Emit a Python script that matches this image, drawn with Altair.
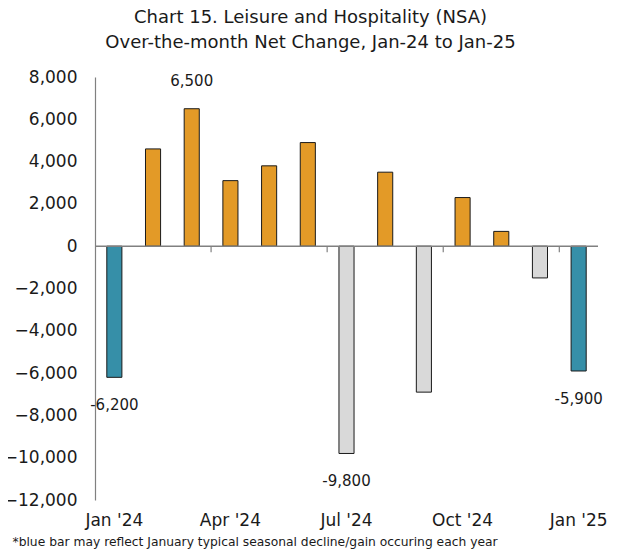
import altair as alt
import pandas as pd

months = ["Jan '24", "Feb '24", "Mar '24", "Apr '24", "May '24", "Jun '24",
          "Jul '24", "Aug '24", "Sep '24", "Oct '24", "Nov '24", "Dec '24", "Jan '25"]
values = [-6200, 4600, 6500, 3100, 3800, 4900, -9800, 3500, -6900, 2300, 700, -1500, -5900]
groups = ["jan", "pos", "pos", "pos", "pos", "pos", "neg", "pos", "neg", "pos", "pos", "neg", "jan"]
labelled = ["-6,200", "", "6,500", "", "", "", "-9,800", "", "", "", "", "", "-5,900"]

label_months = ["Jan '24", "Apr '24", "Jul '24", "Oct '24", "Jan '25"]
tick_months = ["Apr '24", "Jul '24", "Oct '24", "Jan '25"]
y_ticks = [8000, 6000, 4000, 2000, 0, -2000, -4000, -6000, -8000, -10000, -12000]

df = pd.DataFrame({"month": months, "value": values, "group": groups, "lab": labelled})
ticks_df = pd.DataFrame({"month": tick_months, "value": [0] * len(tick_months)})

FONT = "DejaVu Sans"
W, H = 503, 423
YMIN, YMAX = -12000, 8000
P_INNER = 0.61

xscale = alt.Scale(domain=months, paddingInner=P_INNER, paddingOuter=P_INNER / 2)
yscale = alt.Scale(domain=[YMIN, YMAX], nice=False)

x_axis = alt.Axis(values=label_months, ticks=False, domain=False,
                  labelAngle=0, labelFont=FONT, labelFontSize=17,
                  labelColor="#1a1a1a", labelPadding=12,
                  title="*blue bar may reflect January typical seasonal decline/gain occuring each year",
                  titleFont=FONT, titleFontSize=12.3, titleFontWeight="normal",
                  titleColor="#1a1a1a", titleAnchor="start", titleAlign="left",
                  titleX=-83, titleY=41, titleBaseline="middle")
y_axis = alt.Axis(values=y_ticks, format=",.0f", grid=False, ticks=False,
                  domainColor="#808080", domainWidth=1.2,
                  labelFont=FONT, labelFontSize=17, labelColor="#1a1a1a",
                  labelPadding=18, title=None)

X = alt.X("month:N", scale=xscale, sort=months, axis=x_axis)
Y = alt.Y("value:Q", scale=yscale, axis=y_axis)

bars = alt.Chart(df).mark_bar(stroke="#1a1a1a", strokeWidth=1).encode(
    x=X, y=Y,
    color=alt.Color("group:N",
                    scale=alt.Scale(domain=["jan", "pos", "neg"],
                                    range=["#368fa8", "#e39a27", "#d9d9d9"]),
                    legend=None),
)

zero_line = alt.Chart(pd.DataFrame({"value": [0]})).mark_rule(
    color="#808080", strokeWidth=1.5
).encode(y=Y)

step = W / (len(months) - P_INNER + 2 * (P_INNER / 2))
tick_marks = alt.Chart(ticks_df).mark_rule(
    color="#808080", strokeWidth=1.2, y2Offset=6, xOffset=-step * P_INNER / 2
).encode(
    x=alt.X("month:N", scale=xscale, sort=months, bandPosition=0, axis=x_axis),
    y=Y,
    y2="value:Q",
)

text_pos = alt.Chart(df).transform_filter("datum.lab != '' && datum.value >= 0").mark_text(
    font=FONT, fontSize=15, color="#1a1a1a", baseline="middle", dy=-28
).encode(x=X, y=Y, text="lab:N")
text_neg = alt.Chart(df).transform_filter("datum.lab != '' && datum.value < 0").mark_text(
    font=FONT, fontSize=15, color="#1a1a1a", baseline="middle", dy=28
).encode(x=X, y=Y, text="lab:N")

chart = alt.layer(bars, zero_line, tick_marks, text_pos, text_neg).properties(
    width=W, height=H,
    autosize=alt.AutoSizeParams(type="none"),
    padding={"left": 87, "top": 69, "right": 14, "bottom": 56},
    title=alt.TitleParams(
        text=["Chart 15. Leisure and Hospitality (NSA)", "Over-the-month Net Change, Jan-24 to Jan-25"],
        font=FONT, fontSize=18, fontWeight="normal", color="#1a1a1a",
        anchor="middle", dx=-36, offset=16, lineHeight=25),
).configure_view(stroke=None)

chart.save("out.html", embed_options={"renderer": "svg", "actions": False})
